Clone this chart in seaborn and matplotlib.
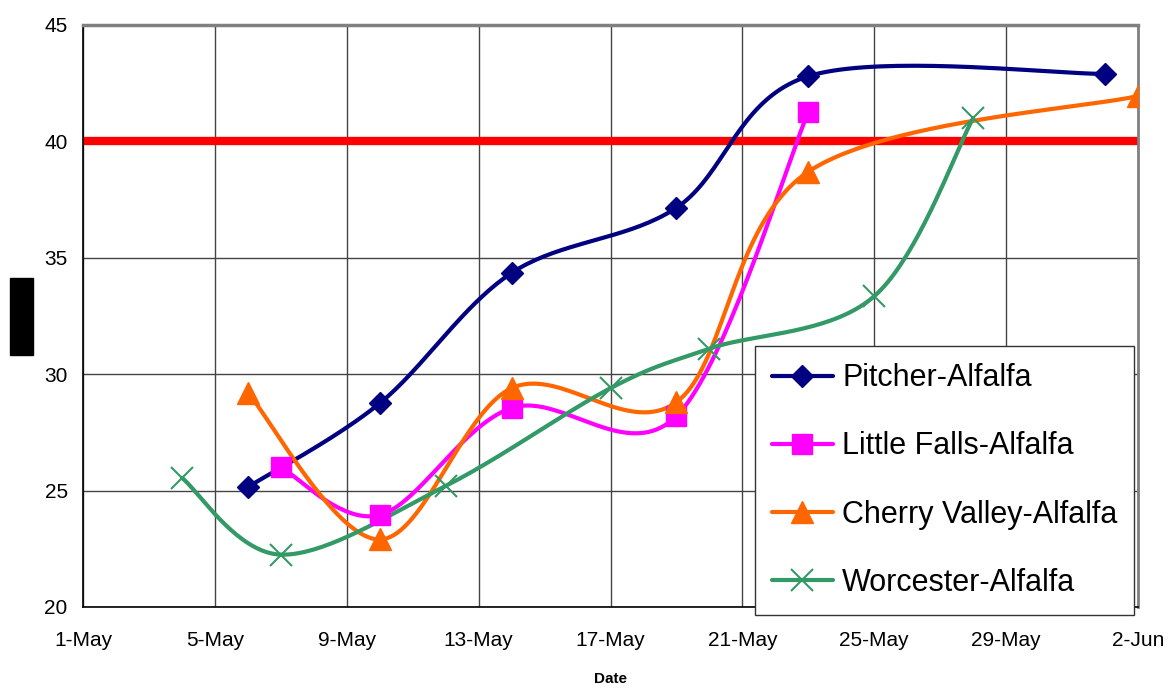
"""Temperatura do solo em alfafa, maio–junho: curvas suavizadas estilo Excel."""

import matplotlib

matplotlib.use("Agg")
import matplotlib.dates as mdates
import matplotlib.pyplot as plt
import numpy as np
import pandas as pd
import seaborn as sns
from matplotlib.lines import Line2D
from matplotlib.patches import Rectangle

# Dados
pitcher_dates = ["2008-05-06", "2008-05-10", "2008-05-14", "2008-05-19", "2008-05-23", "2008-06-01"]
pitcher_vals = [25.15, 28.75, 34.35, 37.15, 42.8, 42.9]

little_dates = ["2008-05-07", "2008-05-10", "2008-05-14", "2008-05-19", "2008-05-23"]
little_vals = [26.0, 23.95, 28.55, 28.2, 41.25]

cherry_dates = ["2008-05-06", "2008-05-10", "2008-05-14", "2008-05-19", "2008-05-23", "2008-06-02"]
cherry_vals = [29.2, 22.9, 29.4, 28.8, 38.7, 41.95]

worcester_dates = ["2008-05-04", "2008-05-07", "2008-05-12", "2008-05-17", "2008-05-20", "2008-05-25", "2008-05-28"]
worcester_vals = [25.55, 22.25, 25.2, 29.4, 31.1, 33.35, 41.0]

limiar = 40
y_ticks = [20, 25, 30, 35, 40, 45]
x_ticks = pd.date_range("2008-05-01", "2008-06-02", freq="4D")

series = [
    ("Pitcher-Alfalfa", pitcher_dates, pitcher_vals, "#000080", "D", 11),
    ("Little Falls-Alfalfa", little_dates, little_vals, "#FF00FF", "s", 14),
    ("Cherry Valley-Alfalfa", cherry_dates, cherry_vals, "#FF6600", "^", 16),
    ("Worcester-Alfalfa", worcester_dates, worcester_vals, "#339966", "x", 16),
]


def _suaviza(x: np.ndarray, y: np.ndarray, n: int = 40):
    """Bezier tipo Excel (controle = vizinhos / 6)."""
    px = np.concatenate([[x[0]], x, [x[-1]]])
    py = np.concatenate([[y[0]], y, [y[-1]]])
    xs, ys = [], []
    t = np.linspace(0, 1, n)
    for i in range(1, len(px) - 2):
        p0 = np.array([px[i], py[i]])
        p3 = np.array([px[i + 1], py[i + 1]])
        c1 = p0 + (np.array([px[i + 1], py[i + 1]]) - np.array([px[i - 1], py[i - 1]])) / 6
        c2 = p3 - (np.array([px[i + 2], py[i + 2]]) - p0) / 6
        b = (
            ((1 - t) ** 3)[:, None] * p0
            + (3 * (1 - t) ** 2 * t)[:, None] * c1
            + (3 * (1 - t) * t**2)[:, None] * c2
            + (t**3)[:, None] * p3
        )
        xs.append(b[:, 0])
        ys.append(b[:, 1])
    return np.concatenate(xs), np.concatenate(ys)


sns.set_style("white")
plt.rcParams["font.family"] = ["Liberation Sans", "DejaVu Sans"]
plt.rcParams["text.color"] = "black"

fig = plt.figure(figsize=(11.69, 6.92), dpi=100)
ax = fig.add_axes([83 / 1169, 85 / 692, 1055 / 1169, 582 / 692])

ax.axhline(limiar, color="#FF0000", linewidth=6, zorder=2)

handles = []
for nome, datas, vals, cor, marc, ms in series:
    xd = mdates.date2num(pd.to_datetime(datas))
    yd = np.asarray(vals, dtype=float)
    sx, sy = _suaviza(xd, yd)
    curva = pd.DataFrame({"x": mdates.num2date(sx), "y": sy})
    sns.lineplot(data=curva, x="x", y="y", sort=False, color=cor,
                 linewidth=3, ax=ax, zorder=3)
    mew = 1.5 if marc == "x" else 1
    ax.plot(pd.to_datetime(datas), yd, linestyle="none", marker=marc,
            markersize=ms, color=cor, markeredgewidth=mew, zorder=4)
    handles.append(Line2D([], [], color=cor, linewidth=3, marker=marc,
                          markersize=ms, markeredgewidth=mew, label=nome))

ax.set_xlim(pd.Timestamp("2008-05-01"), pd.Timestamp("2008-06-02"))
ax.set_ylim(20, 45)
ax.set_xticks(x_ticks)
ax.xaxis.set_major_formatter(mdates.DateFormatter("%-d-%b"))
ax.set_yticks(y_ticks)
ax.tick_params(axis="both", labelsize=15, direction="out", length=5,
               width=1, color="black", labelcolor="black", pad=6)
ax.tick_params(axis="x", pad=12)
ax.grid(True, color="#444444", linewidth=1, zorder=0)
ax.set_axisbelow(True)

for lado in ["left", "bottom"]:
    ax.spines[lado].set_color("black")
    ax.spines[lado].set_linewidth(1.2)
ax.spines["top"].set_color("#808080")
ax.spines["top"].set_linewidth(2.5)
ax.spines["right"].set_color("#808080")
ax.spines["right"].set_linewidth(2)

ax.set_xlabel("Date", fontsize=11, fontweight="bold", labelpad=16,
              color="black")
ax.set_ylabel("")

leg = fig.legend(
    handles=handles,
    loc="center left",
    bbox_to_anchor=(755 / 1169, 75 / 692, 377 / 1169, 273 / 692),
    fontsize=22,
    frameon=True,
    fancybox=False,
    edgecolor="#333333",
    framealpha=1,
    handlelength=2.0,
    handletextpad=0.3,
    labelspacing=1.25,
    borderpad=0.55,
    borderaxespad=0,
)
leg.get_frame().set_linewidth(1)
for txt in leg.get_texts():
    txt.set_color("black")

# tarja preta sobre o rótulo do eixo y (como no original)
fig.patches.append(Rectangle((10 / 1169, 337 / 692), 23 / 1169, 77 / 692,
                             transform=fig.transFigure, color="black"))

fig.savefig("out.png", dpi=100)
